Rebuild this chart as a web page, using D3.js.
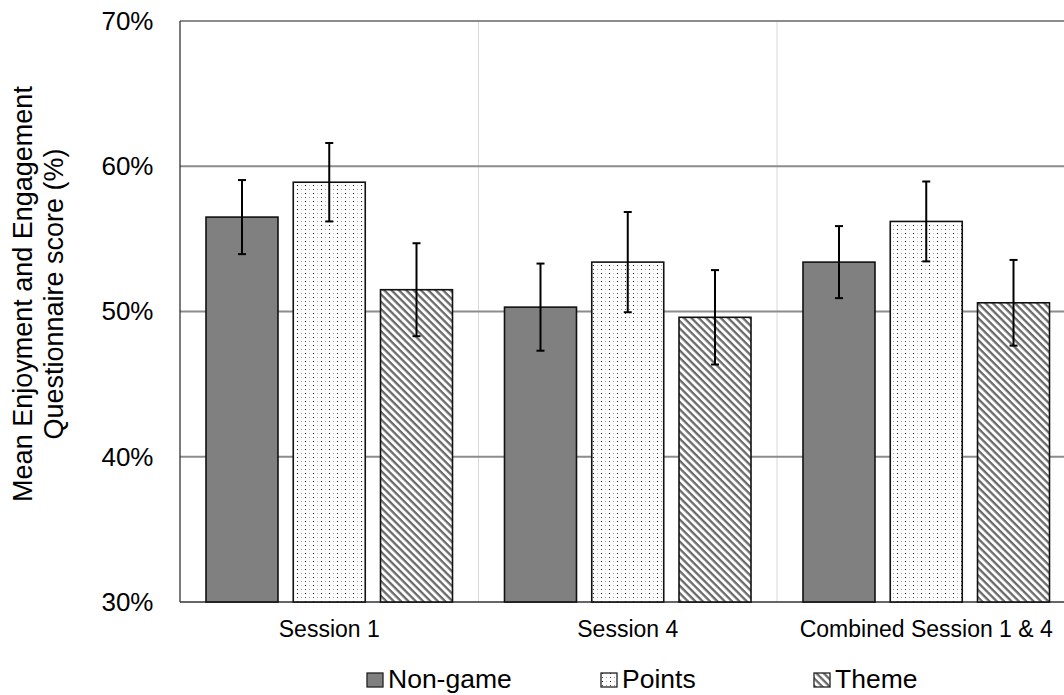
<!DOCTYPE html>
<html>
<head>
<meta charset="utf-8">
<script src="https://cdn.jsdelivr.net/npm/d3@7"></script>
<style>
  html, body { margin: 0; padding: 0; background: #fff; }
  svg { display: block; font-family: "Liberation Sans", Arial, sans-serif; }
</style>
</head>
<body>
<svg id="chart" width="1064" height="695"></svg>
<script>
// ---- data ----
const categories = ["Session 1", "Session 4", "Combined Session 1 & 4"];
const seriesNames = ["Non-game", "Points", "Theme"];
const nonGame = [56.5, 50.3, 53.4];
const points  = [58.9, 53.4, 56.2];
const theme   = [51.5, 49.6, 50.6];
const nonGameErr = [2.55, 3.0, 2.48];
const pointsErr  = [2.7, 3.45, 2.75];
const themeErr   = [3.2, 3.25, 2.95];
const yTicks = [30, 40, 50, 60, 70];
const yTitle = ["Mean Enjoyment and Engagement", "Questionnaire score (%)"];

(function () {
const values = [nonGame, points, theme];
const errs = [nonGameErr, pointsErr, themeErr];

const svg = d3.select("#chart");
const pL = 180, pT = 21, pB = 602, catW = 298.5;
const pR = pL + catW * categories.length;

const defs = svg.append("defs");
// dotted pattern
const pd = defs.append("pattern").attr("id", "dots").attr("patternUnits", "userSpaceOnUse")
  .attr("width", 8).attr("height", 8);
pd.append("rect").attr("width", 8).attr("height", 8).attr("fill", "#fff");
pd.append("rect").attr("x", 1).attr("y", 1).attr("width", 1).attr("height", 1).attr("fill", "#111");
pd.append("rect").attr("x", 5).attr("y", 5).attr("width", 1).attr("height", 1).attr("fill", "#999");
pd.append("rect").attr("x", 5).attr("y", 1).attr("width", 1).attr("height", 1).attr("fill", "#bbb");
pd.append("rect").attr("x", 1).attr("y", 5).attr("width", 1).attr("height", 1).attr("fill", "#444");
// hatch pattern
const ph = defs.append("pattern").attr("id", "hatch").attr("patternUnits", "userSpaceOnUse")
  .attr("width", 5.2).attr("height", 5.2).attr("patternTransform", "rotate(45)");
ph.append("rect").attr("width", 5.2).attr("height", 5.2).attr("fill", "#fff");
ph.append("rect").attr("x", 0).attr("y", 0).attr("width", 5.2).attr("height", 2.3).attr("fill", "#6a6a6a");

const fills = ["#808080", "url(#dots)", "url(#hatch)"];

const y = d3.scaleLinear().domain([30, 70]).range([pB, pT]);
const x0 = d3.scaleBand().domain(categories).range([pL, pR]).padding(0);
const x1 = d3.scaleBand().domain(seriesNames).range([26, catW - 26]).paddingInner(0.175).paddingOuter(0);

// category separators
svg.append("g").selectAll("line").data(categories.slice(1)).join("line")
  .attr("x1", d => x0(d)).attr("x2", d => x0(d))
  .attr("y1", pT).attr("y2", pB)
  .attr("stroke", "#d9d9d9").attr("stroke-width", 1);

// gridlines
svg.append("g").selectAll("line").data(yTicks.filter(t => t > 30)).join("line")
  .attr("x1", pL).attr("x2", pR)
  .attr("y1", d => y(d)).attr("y2", d => y(d))
  .attr("stroke", "#8c8c8c").attr("stroke-width", 2);

// axes lines
svg.append("line").attr("x1", pL).attr("x2", pL).attr("y1", pT).attr("y2", pB)
  .attr("stroke", "#222").attr("stroke-width", 1.2);
svg.append("line").attr("x1", pL).attr("x2", pR).attr("y1", pB).attr("y2", pB)
  .attr("stroke", "#333").attr("stroke-width", 1.5);

// y tick labels
const yAxis = svg.append("g").attr("transform", `translate(${pL},0)`)
  .call(d3.axisLeft(y).tickValues(yTicks).tickSize(0).tickPadding(26.5).tickFormat(d => d + "%"));
yAxis.select(".domain").remove();
yAxis.selectAll("text")
  .attr("dy", "0.32em")
  .attr("font-size", 26)
  .attr("fill", "#000")
  .attr("font-family", "Liberation Sans, Arial, sans-serif");

// x axis labels
const xAxis = svg.append("g").attr("transform", `translate(0,${pB})`)
  .call(d3.axisBottom(x0).tickSize(0).tickPadding(0));
xAxis.select(".domain").remove();
xAxis.selectAll("text")
  .attr("y", 35).attr("dy", 0)
  .attr("font-size", 23)
  .attr("fill", "#000")
  .attr("font-family", "Liberation Sans, Arial, sans-serif");

// bars
const groups = svg.append("g").selectAll("g").data(seriesNames).join("g");
groups.each(function(s, si) {
  const g = d3.select(this);
  g.selectAll("rect").data(categories).join("rect")
    .attr("x", c => x0(c) + x1(s))
    .attr("width", x1.bandwidth())
    .attr("y", (c, ci) => y(values[si][ci]))
    .attr("height", (c, ci) => y(30) - y(values[si][ci]))
    .attr("fill", fills[si])
    .attr("stroke", "#111").attr("stroke-width", 1.6);
  categories.forEach((c, ci) => {
    const cx = x0(c) + x1(s) + x1.bandwidth() / 2;
    const v = values[si][ci], e = errs[si][ci];
    g.append("line").attr("x1", cx).attr("x2", cx).attr("y1", y(v + e)).attr("y2", y(v - e))
      .attr("stroke", "#000").attr("stroke-width", 2);
    [v + e, v - e].forEach(t => {
      g.append("line").attr("x1", cx - 4).attr("x2", cx + 4).attr("y1", y(t)).attr("y2", y(t))
        .attr("stroke", "#000").attr("stroke-width", 2);
    });
  });
});

// y title
svg.append("g").selectAll("text").data(yTitle).join("text")
  .attr("transform", (d, i) => `translate(${[31.5, 62.5][i]},294) rotate(-90)`)
  .attr("text-anchor", "middle")
  .attr("font-size", 27)
  .attr("fill", "#000")
  .text(d => d);

// legend
const legendX = [367, 601, 814];
const lg = svg.append("g").selectAll("g").data(seriesNames).join("g")
  .attr("transform", (d, i) => `translate(${legendX[i]},0)`);
lg.append("rect").attr("x", 0).attr("y", 673).attr("width", 16).attr("height", 14)
  .attr("fill", (d, i) => fills[i]).attr("stroke", "#222").attr("stroke-width", 1.3);
lg.append("text")
  .attr("x", 21).attr("y", 687.5)
  .attr("font-size", 26.5)
  .attr("fill", "#000")
  .text(d => d);
})();
</script>
</body>
</html>
